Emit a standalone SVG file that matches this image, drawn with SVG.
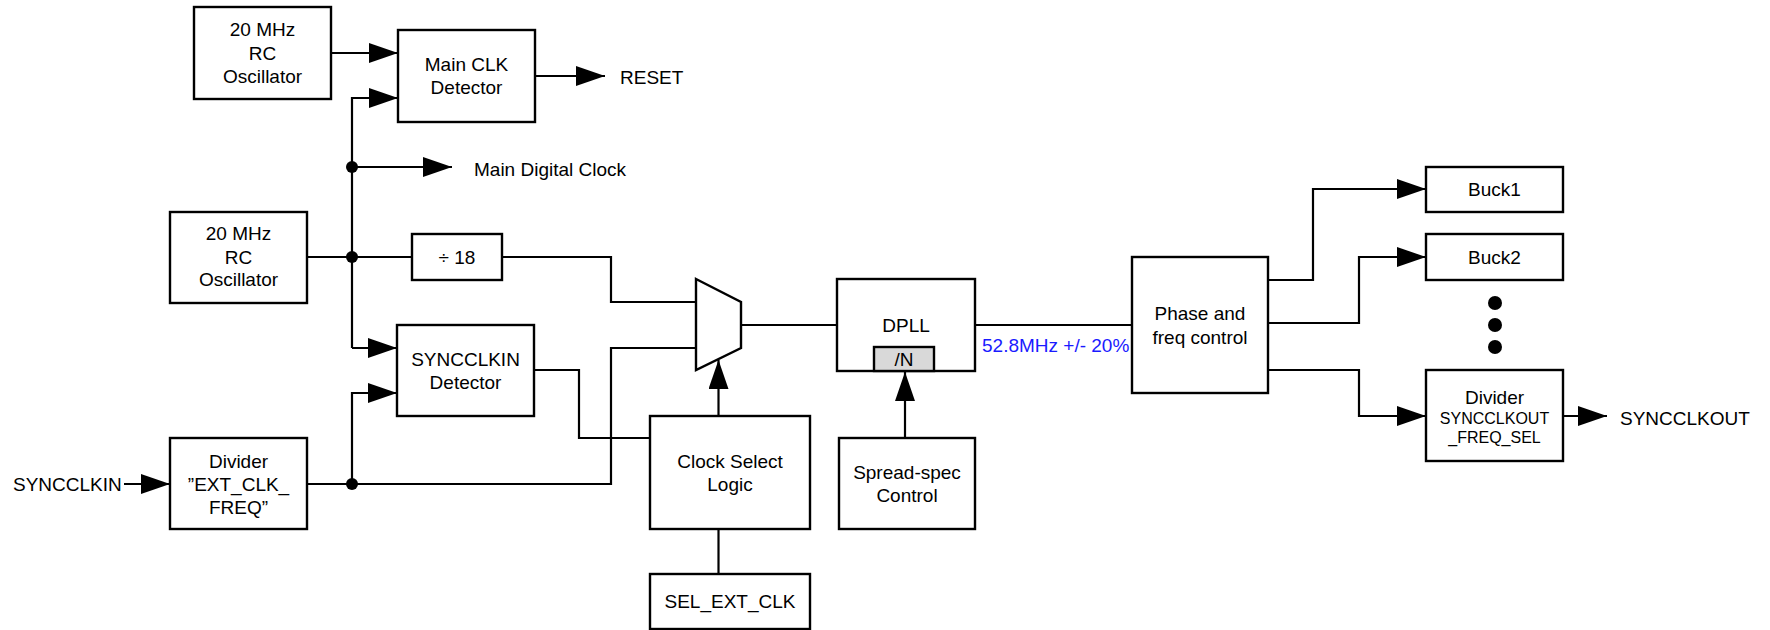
<svg xmlns="http://www.w3.org/2000/svg" width="1770" height="630" viewBox="0 0 1770 630">
<style>
.box{fill:#fff;stroke:#000;stroke-width:2.4}
.ln{fill:none;stroke:#000;stroke-width:2.2}
.ar{fill:none;stroke:#000;stroke-width:2.2;marker-end:url(#ah)}
text{font-family:"Liberation Sans",Arial,Helvetica,sans-serif;font-size:19px;fill:#000}
.c{text-anchor:middle}
.s{font-size:16px}
.blue{fill:#1a1aff}
</style>
<defs>
<marker id="ah" markerUnits="userSpaceOnUse" markerWidth="30" markerHeight="20" refX="29" refY="10" orient="auto"><path d="M0,0 L29,10 L0,20 z" fill="#000"/></marker>
</defs>
<rect width="1770" height="630" fill="#fff"/>
<g id="connectors">
<path class="ar" d="M331,53 H398"/>
<path class="ar" d="M352,348 V98 H398"/>
<path class="ar" d="M352,348 H397"/>
<path class="ar" d="M352,167 H452"/>
<path class="ln" d="M307,257 H412"/>
<path class="ln" d="M502,257 H611 V302 H696"/>
<path class="ln" d="M307,484 H611 V348 H696"/>
<path class="ar" d="M352,484 V393 H397"/>
<path class="ln" d="M534,370 H579 V438 H650"/>
<path class="ar" d="M124,484 H170"/>
<path class="ar" d="M535,76 H605"/>
<path class="ln" d="M741,325 H837"/>
<path class="ar" d="M718.5,416 V360"/>
<path class="ln" d="M718.5,529 V574"/>
<path class="ar" d="M905,438 V372"/>
<path class="ln" d="M975,325 H1132"/>
<path class="ar" d="M1268,280 H1313 V189 H1426"/>
<path class="ar" d="M1268,323 H1359 V257 H1426"/>
<path class="ar" d="M1268,370 H1359 V416 H1426"/>
<path class="ar" d="M1563,416 H1607"/>
<circle cx="352" cy="167" r="6"/>
<circle cx="352" cy="257" r="6"/>
<circle cx="352" cy="484" r="6"/>
</g>
<g id="osc1"><rect class="box" x="194" y="7" width="137" height="92"/>
<text class="c" x="262.5" y="36">20 MHz</text><text class="c" x="262.5" y="60">RC</text><text class="c" x="262.5" y="83">Oscillator</text></g>
<g id="mainclk"><rect class="box" x="398" y="30" width="137" height="92"/>
<text class="c" x="466.5" y="71">Main CLK</text><text class="c" x="466.5" y="94">Detector</text></g>
<g id="reset"><text x="620" y="84">RESET</text></g>
<g id="maindigital"><text x="474" y="176">Main Digital Clock</text></g>
<g id="osc2"><rect class="box" x="170" y="212" width="137" height="91"/>
<text class="c" x="238.5" y="240">20 MHz</text><text class="c" x="238.5" y="264">RC</text><text class="c" x="238.5" y="286">Oscillator</text></g>
<g id="div18"><rect class="box" x="412" y="234" width="90" height="46"/>
<text class="c" x="457" y="264">÷ 18</text></g>
<g id="syncdet"><rect class="box" x="397" y="325" width="137" height="91"/>
<text class="c" x="465.5" y="366">SYNCCLKIN</text><text class="c" x="465.5" y="389">Detector</text></g>
<g id="divin"><rect class="box" x="170" y="438" width="137" height="91"/>
<text class="c" x="238.5" y="468">Divider</text><text class="c" x="238.5" y="491">”EXT_CLK_</text><text class="c" x="238.5" y="514">FREQ”</text></g>
<g id="syncin"><text x="13" y="491">SYNCCLKIN</text></g>
<g id="mux"><path class="box" d="M696,279 L741,302 L741,348 L696,370 Z"/></g>
<g id="clksel"><rect class="box" x="650" y="416" width="160" height="113"/>
<text class="c" x="730" y="468">Clock Select</text><text class="c" x="730" y="491">Logic</text></g>
<g id="selext"><rect class="box" x="650" y="574" width="160" height="55"/>
<text class="c" x="730" y="608">SEL_EXT_CLK</text></g>
<g id="dpll"><rect class="box" x="837" y="279" width="138" height="92"/>
<text class="c" x="906" y="332">DPLL</text>
<rect x="874" y="347" width="60" height="24" fill="#d9d9d9" stroke="#000" stroke-width="2.4"/>
<text class="c" x="904" y="366">/N</text></g>
<g id="spread"><rect class="box" x="839" y="438" width="136" height="91"/>
<text class="c" x="907" y="479">Spread-spec</text><text class="c" x="907" y="502">Control</text></g>
<g id="freqlabel"><text class="blue" x="982" y="352">52.8MHz +/- 20%</text></g>
<g id="phase"><rect class="box" x="1132" y="257" width="136" height="136"/>
<text class="c" x="1200" y="320">Phase and</text><text class="c" x="1200" y="344">freq control</text></g>
<g id="buck1"><rect class="box" x="1426" y="167" width="137" height="45"/>
<text class="c" x="1494.5" y="196">Buck1</text></g>
<g id="buck2"><rect class="box" x="1426" y="234" width="137" height="46"/>
<text class="c" x="1494.5" y="264">Buck2</text></g>
<g id="dots"><circle cx="1495" cy="303" r="7"/><circle cx="1495" cy="325" r="7"/><circle cx="1495" cy="347" r="7"/></g>
<g id="divout"><rect class="box" x="1426" y="370" width="137" height="91"/>
<text class="c" x="1494.5" y="404">Divider</text><text class="c s" x="1494.5" y="424">SYNCCLKOUT</text><text class="c s" x="1494.5" y="443">_FREQ_SEL</text></g>
<g id="syncout"><text x="1620" y="425">SYNCCLKOUT</text></g>
</svg>
